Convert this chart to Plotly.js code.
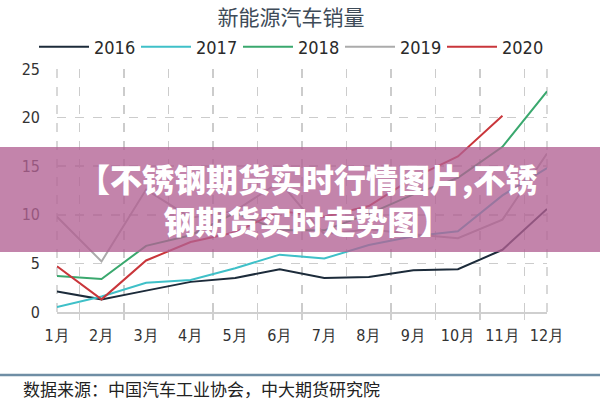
<!DOCTYPE html>
<html><head><meta charset="utf-8">
<script src="https://cdn.plot.ly/plotly-3.0.1.min.js"></script>
<style>html,body{margin:0;padding:0;background:#fff}#chart{width:600px;height:400px}</style>
</head><body><div id="chart"></div>
<script>
const months = ['1月','2月','3月','4月','5月','6月','7月','8月','9月','10月','11月','12月'];
const years = ['2016','2017','2018','2019','2020'];
const sales2016 = [2.1, 1.3, 2.2, 3.1, 3.5, 4.4, 3.5, 3.6, 4.3, 4.4, 6.4, 10.6];
const sales2017 = [0.5, 1.6, 3.0, 3.3, 4.5, 5.9, 5.5, 6.9, 7.8, 8.3, 12.0, 14.8];
const sales2018 = [3.7, 3.4, 6.8, 7.9, 10.2, 8.4, 8.4, 10.1, 12.1, 13.8, 17.0, 22.7];
const sales2019 = [9.8, 5.2, 12.6, 9.7, 10.4, 13.4, 8.0, 8.5, 8.0, 7.6, 9.5, 16.3];
const sales2020 = [4.7, 1.3, 5.3, 7.2, 8.2, 10.4, 9.8, 10.9, 13.8, 16.0, 20.2, null];
const chartTitle = '新能源汽车销量';
const bannerLine1 = '【不锈钢期货实时行情图片,不锈';
const bannerLine2 = '钢期货实时走势图】';
const sourceText = '数据来源：中国汽车工业协会，中大期货研究院';

const series = [sales2016, sales2017, sales2018, sales2019, sales2020];
const colors = ['#1c2b3a', '#3fc0c8', '#3aa86e', '#ababab', '#c9363b'];
const digitFont = 'Liberation Sans Narrow, Arial Narrow, DejaVu Sans Condensed, Liberation Sans, sans-serif';

const traces = series.map((v, i) => ({
  x: months, y: v, type: 'scatter', mode: 'lines', name: years[i],
  line: {color: colors[i], width: 2}, hoverinfo: 'skip'
}));

const plotTop = 69, plotBottom = 312, plotH = plotBottom - plotTop;
const py = px => (plotBottom - px) / plotH;
const plotL = 57, plotW = 490;
const pxX = px => (px - plotL) / plotW;

const layout = {
  width: 600, height: 400,
  margin: {l: 57, r: 53, t: 69, b: 88},
  paper_bgcolor: '#ffffff', plot_bgcolor: '#ffffff',
  showlegend: true,
  title: {text: chartTitle, x: pxX(291), xref: 'paper', xanchor: 'center', y: 1 - 18/400, yanchor: 'middle',
    font: {family: 'Noto Sans CJK SC', size: 21, color: '#3e4b58'}},
  legend: {orientation: 'h', x: pxX(34), xanchor: 'left', y: py(47), yanchor: 'middle',
    font: {family: digitFont, size: 18, color: '#2a2a2a'}, itemwidth: 50,
    entrywidth: 37, entrywidthmode: 'pixels', traceorder: 'normal', bgcolor: 'rgba(0,0,0,0)'},
  xaxis: {type: 'category', tickson: 'boundaries', showgrid: true, gridcolor: '#cccccc', griddash: 'dash',
    gridwidth: 1.5, showline: true, linecolor: '#cfcfcf', linewidth: 2, ticks: 'outside', ticklen: 6,
    tickcolor: '#cfcfcf', tickwidth: 1.5, ticklabelstandoff: 8,
    tickfont: {family: digitFont, size: 16, color: '#333333'}, zeroline: false, fixedrange: true},
  yaxis: {range: [0, 25], dtick: 5, showgrid: true, gridcolor: '#cccccc', griddash: 'dash', gridwidth: 1.5,
    zeroline: false, ticks: '', ticklabelstandoff: 16,
    tickfont: {family: digitFont, size: 16, color: '#333333'}, fixedrange: true},
  shapes: [
    {type: 'line', xref: 'paper', yref: 'paper', x0: 0, x1: 0, y0: 0, y1: 1,
      line: {color: '#cccccc', width: 1.5, dash: 'dash'}, layer: 'below'},
    {type: 'line', xref: 'paper', yref: 'paper', x0: 1, x1: 1, y0: 0, y1: 1,
      line: {color: '#cccccc', width: 1.5, dash: 'dash'}, layer: 'below'},
    {type: 'rect', xref: 'paper', yref: 'paper', x0: pxX(-5), x1: pxX(605), y0: py(252), y1: py(147),
      fillcolor: 'rgba(178,98,148,0.78)', line: {width: 0}, layer: 'above'},
    {type: 'line', xref: 'paper', yref: 'paper', x0: pxX(-5), x1: pxX(605), y0: py(375), y1: py(375),
      line: {color: '#6f8ea5', width: 2.5}, layer: 'above'}
  ],
  annotations: [
    {text: bannerLine1 + '<br>' + bannerLine2, xref: 'paper', yref: 'paper', x: pxX(307), y: py(199),
      xanchor: 'center', yanchor: 'middle', align: 'center',
      showarrow: false, font: {family: 'Noto Sans CJK SC', size: 32, weight: 900, color: '#ffffff'}},
    {text: sourceText, xref: 'paper', yref: 'paper', x: pxX(21), y: py(388), xanchor: 'left', yanchor: 'middle',
      showarrow: false, font: {family: 'Noto Sans CJK SC', size: 17, color: '#222222'}}
  ]
};

Plotly.newPlot('chart', traces, layout, {displayModeBar: false, staticPlot: true});
</script>
</body></html>
